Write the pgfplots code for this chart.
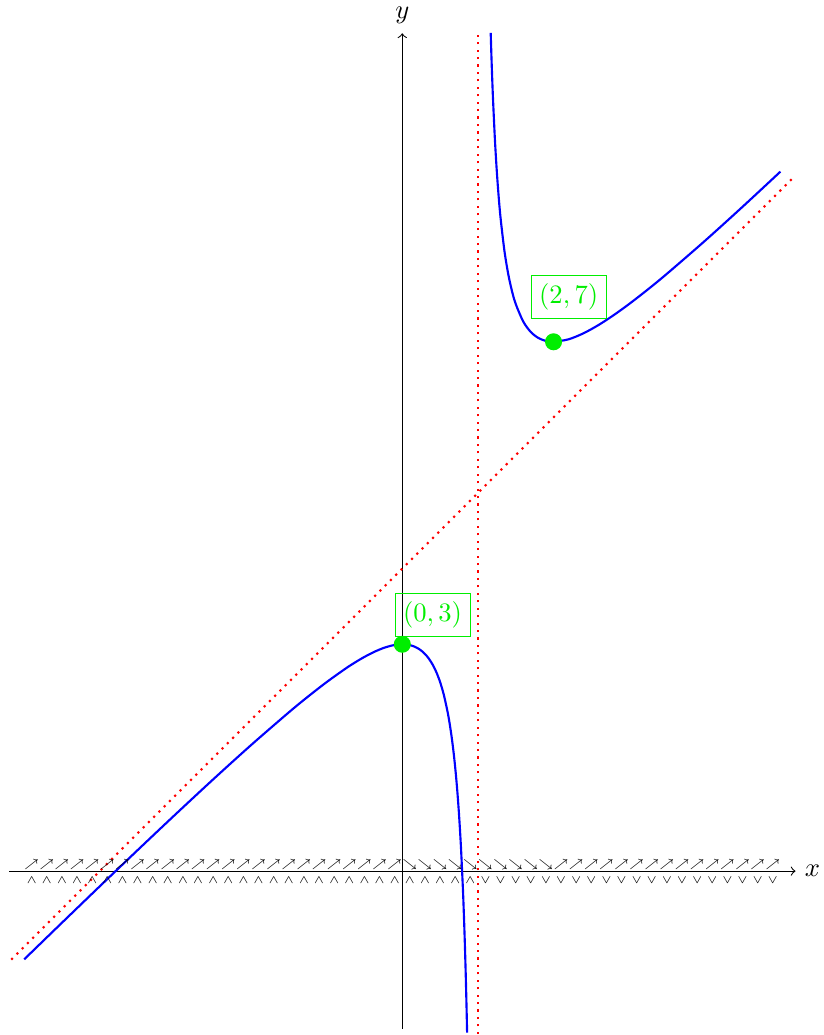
\documentclass[border=0pt]{standalone}
\usepackage{graphicx}
\usepackage{pgfplots}
\pgfplotsset{compat=1.18}
\definecolor{ptgreen}{RGB}{0,238,0}
\newcommand{\tinyglyph}[1]{\scalebox{0.86}{\fontsize{5}{5}\selectfont$#1$}}
\begin{document}
\begin{tikzpicture}
\begin{axis}[
  x=1cm, y=1cm,
  axis lines=middle,
  xmin=-5.2, xmax=5.2, ymin=-2.087, ymax=11.08,
  xtick=\empty, ytick=\empty,
  xlabel={$x$}, ylabel={$y$},
  every axis x label/.style={at={(ticklabel* cs:1)}, anchor=west, overlay},
  every axis y label/.style={at={(ticklabel* cs:1)}, anchor=south, overlay},
  clip=false,
  axis line style={line width=0.4pt, -to},
  every inner x axis line/.append style={-to},
  every inner y axis line/.append style={-to},
]
% bounding box to match reference proportions
\path (axis cs:-5.32,-2.153) rectangle (axis cs:5.575,11.52);
% asymptotes
\addplot[red, thick, dotted] coordinates {(-5.17,-1.17) (5.17,9.17)};
\addplot[red, thick, dotted] coordinates {(1,-2.153) (1,11.08)};
% left branch
\addplot[blue, thick, smooth] coordinates {
(-5,-1.1667) (-4.5,-0.6818) (-4,-0.2) (-3.5,0.2778) (-3,0.75) (-2.5,1.2143)
(-2,1.6667) (-1.5,2.1) (-1.25,2.3056) (-1,2.5) (-0.75,2.6786) (-0.625,2.7596)
(-0.5,2.8333) (-0.375,2.8977) (-0.25,2.95) (-0.125,2.9861) (0,3) (0.05,2.9974)
(0.1,2.9889) (0.15,2.9735) (0.2,2.95) (0.25,2.9167) (0.3,2.8714) (0.35,2.8115)
(0.4,2.7333) (0.45,2.6318) (0.5,2.5) (0.55,2.3278) (0.6,2.1) (0.625,1.9583)
(0.65,1.7929) (0.675,1.5981) (0.7,1.3667) (0.725,1.0886) (0.75,0.75)
(0.775,0.3306) (0.8,-0.2) (0.81,-0.4532) (0.82,-0.7356) (0.83,-1.0524)
(0.84,-1.41) (0.85,-1.8167) (0.857,-2.136)};
% right branch
\addplot[blue, thick, smooth] coordinates {
(1.169,11.086) (1.18,10.7356) (1.19,10.4532) (1.2,10.2) (1.225,9.6694)
(1.25,9.25) (1.275,8.9114) (1.3,8.6333) (1.35,8.2071) (1.4,7.9) (1.45,7.6722)
(1.5,7.5) (1.6,7.2667) (1.7,7.1286) (1.8,7.05) (1.9,7.0111) (2,7) (2.2,7.0333)
(2.4,7.1143) (2.6,7.225) (2.8,7.3556) (3,7.5) (3.25,7.6944) (3.5,7.9) (4,8.3333)
(4.5,8.7857) (5,9.25)};
% critical points
\addplot[only marks, mark=*, mark size=3pt, ptgreen] coordinates {(0,3) (2,7)};
\node[draw=ptgreen, text=ptgreen, inner sep=3pt] at (axis cs:0.4,3.39) {$(0,3)$};
\node[draw=ptgreen, text=ptgreen, inner sep=3pt] at (axis cs:2.2,7.59) {$(2,7)$};
% sign chart: monotonicity
\addplot[only marks, black, mark=text, text mark={\tinyglyph{\nearrow}}] coordinates {
(-4.9,0.09) (-4.7,0.09) (-4.5,0.09) (-4.3,0.09) (-4.1,0.09) (-3.9,0.09) (-3.7,0.09)
(-3.5,0.09) (-3.3,0.09) (-3.1,0.09) (-2.9,0.09) (-2.7,0.09) (-2.5,0.09) (-2.3,0.09)
(-2.1,0.09) (-1.9,0.09) (-1.7,0.09) (-1.5,0.09) (-1.3,0.09) (-1.1,0.09) (-0.9,0.09)
(-0.7,0.09) (-0.5,0.09) (-0.3,0.09) (-0.1,0.09)
(2.1,0.09) (2.3,0.09) (2.5,0.09) (2.7,0.09) (2.9,0.09) (3.1,0.09) (3.3,0.09)
(3.5,0.09) (3.7,0.09) (3.9,0.09) (4.1,0.09) (4.3,0.09) (4.5,0.09) (4.7,0.09) (4.9,0.09)};
\addplot[only marks, black, mark=text, text mark={\tinyglyph{\searrow}}] coordinates {
(0.1,0.09) (0.3,0.09) (0.5,0.09) (0.7,0.09) (0.9,0.09) (1.1,0.09) (1.3,0.09)
(1.5,0.09) (1.7,0.09) (1.9,0.09)};
% sign chart: concavity
\addplot[only marks, black, mark=text, text mark={\tinyglyph{\wedge}}] coordinates {
(-4.9,-0.12) (-4.7,-0.12) (-4.5,-0.12) (-4.3,-0.12) (-4.1,-0.12) (-3.9,-0.12) (-3.7,-0.12)
(-3.5,-0.12) (-3.3,-0.12) (-3.1,-0.12) (-2.9,-0.12) (-2.7,-0.12) (-2.5,-0.12) (-2.3,-0.12)
(-2.1,-0.12) (-1.9,-0.12) (-1.7,-0.12) (-1.5,-0.12) (-1.3,-0.12) (-1.1,-0.12) (-0.9,-0.12)
(-0.7,-0.12) (-0.5,-0.12) (-0.3,-0.12) (-0.1,-0.12) (0.1,-0.12) (0.3,-0.12) (0.5,-0.12)
(0.7,-0.12) (0.9,-0.12)};
\addplot[only marks, black, mark=text, text mark={\tinyglyph{\vee}}] coordinates {
(1.1,-0.12) (1.3,-0.12) (1.5,-0.12) (1.7,-0.12) (1.9,-0.12) (2.1,-0.12) (2.3,-0.12)
(2.5,-0.12) (2.7,-0.12) (2.9,-0.12) (3.1,-0.12) (3.3,-0.12) (3.5,-0.12) (3.7,-0.12)
(3.9,-0.12) (4.1,-0.12) (4.3,-0.12) (4.5,-0.12) (4.7,-0.12) (4.9,-0.12)};
\end{axis}
\end{tikzpicture}
\end{document}
